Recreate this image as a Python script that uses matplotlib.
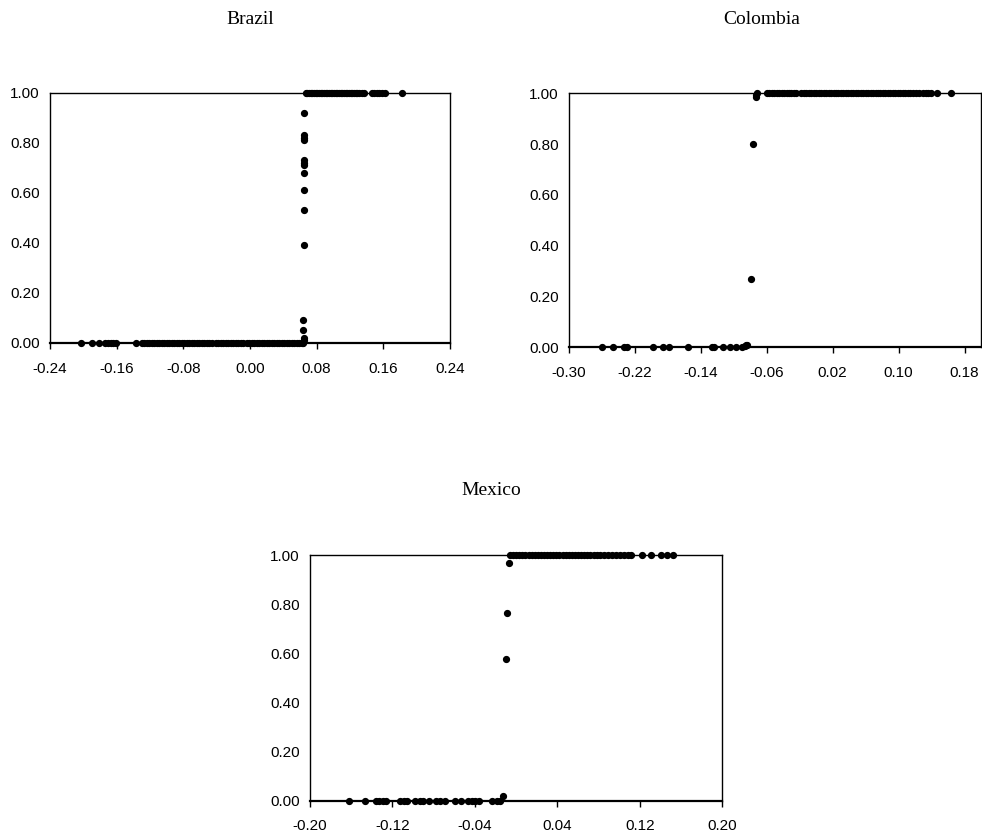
import matplotlib.pyplot as plt
import numpy as np

# Brazil: observations at 0, on the jump and at 1
brazil_zero_x = [-0.203, -0.190, -0.181, -0.174, -0.170, -0.167, -0.164, -0.161, -0.137,
                 -0.129, -0.127, -0.124, -0.121, -0.118, -0.115, -0.112, -0.109, -0.106,
                 -0.103, -0.100, -0.097, -0.094, -0.091, -0.088, -0.085, -0.082, -0.079,
                 -0.076, -0.073, -0.070, -0.067, -0.064, -0.061, -0.058, -0.055, -0.052,
                 -0.049, -0.046, -0.041, -0.038, -0.035, -0.032, -0.029, -0.026, -0.023,
                 -0.020, -0.017, -0.014, -0.011, -0.008, -0.004, -0.001, 0.002, 0.005,
                 0.008, 0.011, 0.014, 0.017, 0.020, 0.023, 0.026, 0.029, 0.032, 0.035,
                 0.038, 0.041, 0.044, 0.047, 0.050, 0.053, 0.056, 0.059, 0.062, 0.064]
brazil_mid_x = [0.065, 0.065, 0.065, 0.065, 0.065, 0.065, 0.065, 0.065, 0.065, 0.065,
                0.065, 0.064, 0.064, 0.065, 0.065]
brazil_mid_y = [0.92, 0.83, 0.82, 0.81, 0.73, 0.72, 0.71, 0.68, 0.61, 0.53,
                0.39, 0.09, 0.05, 0.02, 0.01]
brazil_one_x = [0.067, 0.069, 0.071, 0.073, 0.075, 0.077, 0.079, 0.081, 0.083, 0.085,
                0.087, 0.089, 0.091, 0.093, 0.095, 0.097, 0.099, 0.101, 0.103, 0.105,
                0.107, 0.109, 0.111, 0.113, 0.115, 0.117, 0.119, 0.121, 0.123, 0.125,
                0.127, 0.129, 0.131, 0.134, 0.137, 0.146, 0.149, 0.152, 0.155, 0.158,
                0.162, 0.182]

# Colombia
colombia_zero_x = [-0.260, -0.247, -0.233, -0.229, -0.198, -0.186, -0.179, -0.156,
                   -0.126, -0.124, -0.113, -0.105, -0.097, -0.090]
colombia_mid_x = [-0.087, -0.085, -0.084, -0.0794, -0.0762, -0.0734, -0.073]
colombia_mid_y = [0.005, 0.01, 0.01, 0.27, 0.80, 0.985, 0.995]
colombia_one_x = [-0.072, -0.060, -0.057, -0.054, -0.051, -0.048, -0.045, -0.042, -0.039,
                  -0.036, -0.033, -0.030, -0.027, -0.024, -0.018, -0.015, -0.012, -0.009,
                  -0.006, -0.003, 0.000, 0.003, 0.006, 0.009, 0.012, 0.015, 0.018, 0.021,
                  0.024, 0.027, 0.030, 0.033, 0.036, 0.039, 0.042, 0.045, 0.048, 0.051,
                  0.054, 0.057, 0.060, 0.063, 0.066, 0.069, 0.072, 0.075, 0.078, 0.081,
                  0.084, 0.087, 0.090, 0.093, 0.096, 0.099, 0.102, 0.105, 0.108, 0.111,
                  0.114, 0.117, 0.121, 0.125, 0.129, 0.133, 0.136, 0.139, 0.146, 0.164]

# Mexico
mexico_zero_x = [-0.162, -0.147, -0.136, -0.133, -0.129, -0.126, -0.113, -0.109, -0.106,
                 -0.098, -0.093, -0.090, -0.085, -0.078, -0.074, -0.069, -0.059, -0.054,
                 -0.047, -0.043, -0.040, -0.036, -0.023, -0.019, -0.016]
mexico_mid_x = [-0.013, -0.0099, -0.0086, -0.0073]
mexico_mid_y = [0.02, 0.576, 0.766, 0.97]
mexico_one_x = [-0.006, -0.003, 0.000, 0.003, 0.006, 0.009, 0.012, 0.015, 0.018, 0.021,
                0.024, 0.027, 0.030, 0.033, 0.036, 0.039, 0.042, 0.045, 0.048, 0.051,
                0.054, 0.057, 0.060, 0.063, 0.066, 0.069, 0.072, 0.075, 0.078, 0.081,
                0.085, 0.089, 0.093, 0.097, 0.101, 0.105, 0.108, 0.111, 0.122, 0.131,
                0.140, 0.146, 0.152]

y_ticks = [0.0, 0.2, 0.4, 0.6, 0.8, 1.0]
tick_font = ['Liberation Sans Narrow', 'Liberation Sans', 'DejaVu Sans']


def draw_panel(ax, zero_x, mid_x, mid_y, one_x, xlim, xticks):
    xs = list(zero_x) + list(mid_x) + list(one_x)
    ys = [0.0] * len(zero_x) + list(mid_y) + [1.0] * len(one_x)
    ax.plot(xs, ys, 'o', color='black', markersize=4.2, clip_on=False, zorder=3)
    ax.set_xlim(*xlim)
    ax.set_ylim(0, 1)
    ax.set_xticks(xticks)
    ax.set_yticks(y_ticks)
    ax.set_xticklabels([f"{t:.2f}" for t in xticks], family=tick_font, fontsize=11)
    ax.set_yticklabels([f"{t:.2f}" for t in y_ticks], family=tick_font, fontsize=11)
    ax.tick_params(axis='x', direction='out', length=4, width=1, pad=9.5)
    ax.tick_params(axis='y', length=0, pad=7.5)
    for side in ['top', 'left', 'right']:
        ax.spines[side].set_linewidth(1.0)
        ax.spines[side].set_color('black')
    ax.spines['bottom'].set_linewidth(1.6)


fig = plt.figure(figsize=(9.82, 8.40), dpi=100)

ax1 = fig.add_axes([0.0509, 0.5917, 0.4073, 0.2976])
draw_panel(ax1, brazil_zero_x, brazil_mid_x, brazil_mid_y, brazil_one_x,
           (-0.24, 0.24), [-0.24, -0.16, -0.08, 0.0, 0.08, 0.16, 0.24])

ax2 = fig.add_axes([0.5794, 0.5865, 0.4196, 0.3024])
draw_panel(ax2, colombia_zero_x, colombia_mid_x, colombia_mid_y, colombia_one_x,
           (-0.30, 0.20), [-0.30, -0.22, -0.14, -0.06, 0.02, 0.10, 0.18])

ax3 = fig.add_axes([0.3157, 0.0468, 0.4199, 0.2921])
draw_panel(ax3, mexico_zero_x, mexico_mid_x, mexico_mid_y, mexico_one_x,
           (-0.20, 0.20), [-0.20, -0.12, -0.04, 0.04, 0.12, 0.20])

title_font = ['Liberation Serif', 'DejaVu Serif']
fig.text(250 / 982, 1 - 20 / 840, 'Brazil', ha='center', va='center', family=title_font, fontsize=14)
fig.text(762 / 982, 1 - 20 / 840, 'Colombia', ha='center', va='center', family=title_font, fontsize=14)
fig.text(491 / 982, 1 - 490 / 840, 'Mexico', ha='center', va='center', family=title_font, fontsize=14)

fig.savefig('out.png', dpi=100)
